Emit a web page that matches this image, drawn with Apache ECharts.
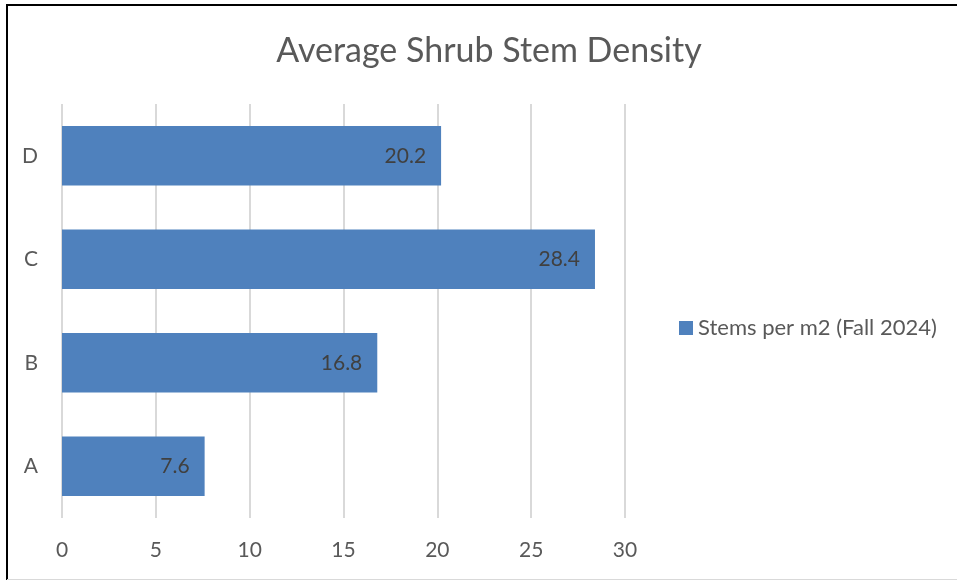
<!DOCTYPE html>
<html>
<head>
<meta charset="utf-8">
<script src="https://cdn.jsdelivr.net/npm/echarts@6/dist/echarts.min.js"></script>
<style>
html,body{margin:0;padding:0;background:#fff;}
#chart{width:957px;height:580px;}
</style>
</head>
<body>
<div id="chart"></div>
<script>
const categories = ['A', 'B', 'C', 'D'];
const seriesName = 'Stems per m2 (Fall 2024)';
const stems = [7.6, 16.8, 28.4, 20.2];
const titleText = 'Average Shrub Stem Density';

const FONT = 'Lato';
const chart = echarts.init(document.getElementById('chart'), null, {renderer: 'canvas'});
chart.setOption({
  animation: false,
  backgroundColor: '#ffffff',
  title: {
    text: titleText,
    left: 484, textAlign: 'center', top: 29,
    textStyle: {fontFamily: FONT, fontSize: 34, fontWeight: 'normal', color: '#595959'}
  },
  legend: {
    data: [seriesName],
    left: 679, top: 317, padding: 0,
    icon: 'rect', itemWidth: 14, itemHeight: 14, itemGap: 5,
    textStyle: {fontFamily: FONT, fontSize: 22, color: '#595959', padding: [0,0,0,0]}
  },
  grid: {left: 62, right: 332, top: 104, bottom: 62, containLabel: false},
  xAxis: {
    type: 'value', min: 0, max: 30, interval: 5,
    axisLine: {show: false}, axisTick: {show: false},
    splitLine: {show: true, lineStyle: {color: '#D9D9D9', width: 2}},
    axisLabel: {fontFamily: FONT, fontSize: 21, color: '#595959', margin: 22}
  },
  yAxis: {
    type: 'category', data: categories,
    axisLine: {show: false}, axisTick: {show: false},
    axisLabel: {fontFamily: FONT, fontSize: 21, color: '#595959', margin: 24}
  },
  series: [{
    name: seriesName, type: 'bar', data: stems,
    barWidth: '57.5%',
    itemStyle: {color: '#4F81BD'},
    label: {show: true, position: 'insideRight', distance: 15,
      fontFamily: FONT, fontSize: 21, color: '#404040'}
  }],
  graphic: [
    {type: 'polyline', shape: {points: [[7, 580], [7, 5], [957, 5]]},
      style: {stroke: '#000', lineWidth: 2, fill: null}, silent: true},
    {type: 'line', shape: {x1: 7, y1: 579.5, x2: 957, y2: 579.5},
      style: {stroke: '#D9D9D9', lineWidth: 1}, silent: true}
  ]
});
</script>
</body>
</html>
